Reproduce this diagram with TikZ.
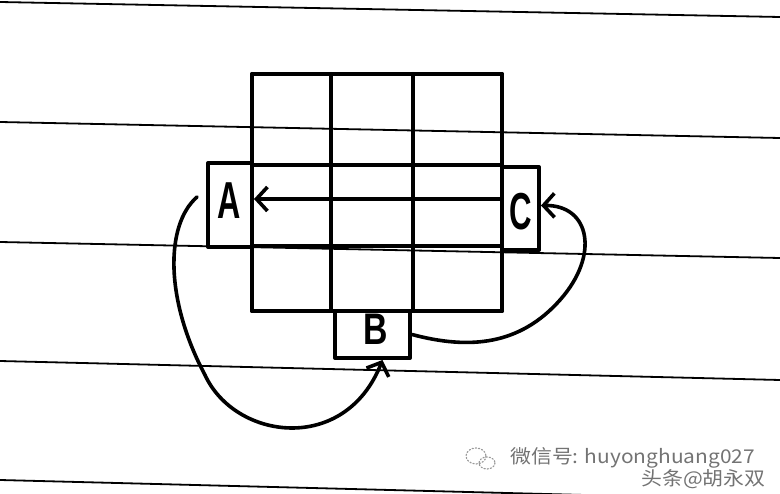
\documentclass[tikz,border=0pt]{standalone}
\usepackage{graphicx}
\usepackage{fontspec}
\setsansfont{Liberation Sans}
\newfontfamily\cjkfont{Noto Sans CJK SC}
\usetikzlibrary{arrows.meta}

\begin{document}
\begin{tikzpicture}[x=1pt,y=-1pt,->,>={Straight Barb[length=11pt,width=24pt]},
                    line join=round,line cap=round,
                    paper line/.style={-,line width=1.8pt},
                    grid line/.style={-,line width=4pt},
                    letter box/.style={draw,-,line width=4pt,inner sep=0pt},
                    letter/.style={font=\sffamily\bfseries\fontsize{52}{52}\selectfont},
                    flow/.style={->,line width=3.6pt},
                    mark text/.style={text=black!55,inner sep=0pt,
                      font=\cjkfont\fontsize{19}{19}\selectfont}]
  \useasboundingbox (0,0) rectangle (780,494);

  % ruled paper
  \draw[paper line] (0,2) -- (780,17);
  \draw[paper line] (0,122) -- (780,138);
  \draw[paper line] (0,242) -- (780,258);
  \draw[paper line] (0,361) -- (780,380);
  \draw[paper line] (0,480) -- (780,500);

  % 3x3 grid
  \foreach \x in {252,331,413,502}
    \draw[grid line] (\x,74) -- (\x,311);
  \foreach \y in {74,165,246,311}
    \draw[grid line] (252,\y) -- (502,\y);

  \node[letter box,minimum width=44pt,minimum height=84pt] (A) at (230,205) {};
  \node[letter box,minimum width=37pt,minimum height=83pt] (C) at (520.5,208.5) {};
  \node[letter box,minimum width=75pt,minimum height=47pt] (B) at (372.5,334.5) {};
  \node[letter] (la) at (229,201) {\scalebox{0.62}[1]{A}};
  \node[letter] (lc) at (521,212) {\scalebox{0.6}[1]{C}};
  \node[letter] (lb) at (376,329) {\scalebox{0.65}[0.85]{B}};

  \coordinate (a1) at (197,197);

  \draw[flow] ([yshift=9.5pt]C.west) -- ([yshift=6pt]A.east);
  \draw[flow] (a1) .. controls (165,225) and (165,300) .. (205,375)
                   .. controls (235,440) and (345,455) .. ([xshift=10pt]B.south);
  \draw[flow] (B.east) .. controls (470,350) and (520,345) .. (560,300)
                       .. controls (600,255) and (590,205) .. ([yshift=3pt]C.east);

  % watermark
  \draw[-,dotted,black!40,line width=1.2pt] (476,456) ellipse (10 and 8);
  \draw[-,dotted,black!40,line width=1.2pt] (487,463) ellipse (8 and 6);
  \node[mark text,anchor=west] (wx) at (510,458) {\scalebox{1.1}[1]{微信号: huyonghuang027}};
  \node[mark text,anchor=west] (tt) at (641,479) {\scalebox{1.1}[1]{头条@胡永双}};
\end{tikzpicture}
\end{document}
